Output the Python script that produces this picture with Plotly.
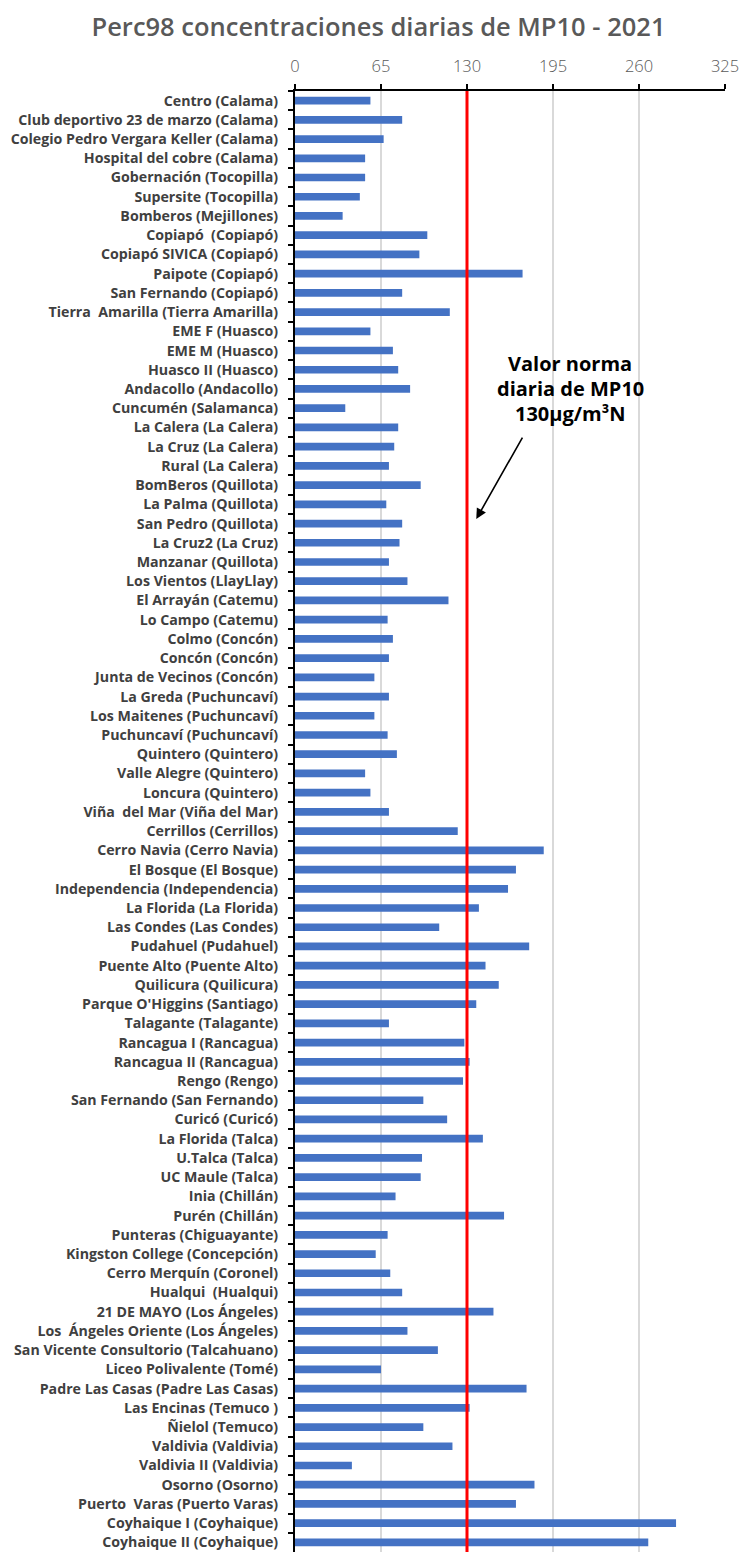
import plotly.graph_objects as go

# Monitoring stations (top to bottom) and their 98th-percentile daily PM10 (µg/m³N)
stations = [
    "Centro (Calama)", "Club deportivo 23 de marzo (Calama)", "Colegio Pedro Vergara Keller (Calama)",
    "Hospital del cobre (Calama)", "Gobernación (Tocopilla)", "Supersite (Tocopilla)",
    "Bomberos (Mejillones)", "Copiapó  (Copiapó)", "Copiapó SIVICA (Copiapó)", "Paipote (Copiapó)",
    "San Fernando (Copiapó)", "Tierra  Amarilla (Tierra Amarilla)", "EME F (Huasco)", "EME M (Huasco)",
    "Huasco II (Huasco)", "Andacollo (Andacollo)", "Cuncumén (Salamanca)", "La Calera (La Calera)",
    "La Cruz (La Calera)", "Rural (La Calera)", "BomBeros (Quillota)", "La Palma (Quillota)",
    "San Pedro (Quillota)", "La Cruz2 (La Cruz)", "Manzanar (Quillota)", "Los Vientos (LlayLlay)",
    "El Arrayán (Catemu)", "Lo Campo (Catemu)", "Colmo (Concón)", "Concón (Concón)",
    "Junta de Vecinos (Concón)", "La Greda (Puchuncaví)", "Los Maitenes (Puchuncaví)",
    "Puchuncaví (Puchuncaví)", "Quintero (Quintero)", "Valle Alegre (Quintero)", "Loncura (Quintero)",
    "Viña  del Mar (Viña del Mar)", "Cerrillos (Cerrillos)", "Cerro Navia (Cerro Navia)",
    "El Bosque (El Bosque)", "Independencia (Independencia)", "La Florida (La Florida)",
    "Las Condes (Las Condes)", "Pudahuel (Pudahuel)", "Puente Alto (Puente Alto)",
    "Quilicura (Quilicura)", "Parque O'Higgins (Santiago)", "Talagante (Talagante)",
    "Rancagua I (Rancagua)", "Rancagua II (Rancagua)", "Rengo (Rengo)", "San Fernando (San Fernando)",
    "Curicó (Curicó)", "La Florida (Talca)", "U.Talca (Talca)", "UC Maule (Talca)", "Inia (Chillán)",
    "Purén (Chillán)", "Punteras (Chiguayante)", "Kingston College (Concepción)",
    "Cerro Merquín (Coronel)", "Hualqui  (Hualqui)", "21 DE MAYO (Los Ángeles)",
    "Los  Ángeles Oriente (Los Ángeles)", "San Vicente Consultorio (Talcahuano)",
    "Liceo Polivalente (Tomé)", "Padre Las Casas (Padre Las Casas)", "Las Encinas (Temuco )",
    "Ñielol (Temuco)", "Valdivia (Valdivia)", "Valdivia II (Valdivia)", "Osorno (Osorno)",
    "Puerto  Varas (Puerto Varas)", "Coyhaique I (Coyhaique)", "Coyhaique II (Coyhaique)",
]

perc98 = [
    57, 81, 67, 53, 53, 49, 36, 100, 94, 172,
    81, 117, 57, 74, 78, 87, 38, 78, 75, 71,
    95, 69, 81, 79, 71, 85, 116, 70, 74, 71,
    60, 71, 60, 70, 77, 53, 57, 71, 123, 188,
    167, 161, 139, 109, 177, 144, 154, 137, 71, 128,
    132, 127, 97, 115, 142, 96, 95, 76, 158, 70,
    61, 72, 81, 150, 85, 108, 65, 175, 132, 97,
    119, 43, 181, 167, 288, 267,
]

x_ticks = [0, 65, 130, 195, 260, 325]
NORM = 130  # daily PM10 standard, µg/m³N
norm_lines = ["Valor norma", "diaria de MP10", "130µg/m³N"]

FONT = "Open Sans"

fig = go.Figure()
fig.add_trace(go.Bar(
    x=perc98, y=stations, orientation="h",
    marker=dict(color="#4472C4", line=dict(width=0)),
    width=0.4, hoverinfo="x+y",
))

# White box behind the callout, hiding the gridlines under the text
fig.add_shape(type="rect", xref="x", yref="paper", x0=141, x1=272, y0=0.7555, y1=0.8225,
              fillcolor="white", line=dict(width=0), layer="between")

# Daily standard as a vertical red line
fig.add_shape(type="line", xref="x", yref="paper", x0=NORM, x1=NORM, y0=0, y1=1,
              line=dict(color="#FF0000", width=3), layer="above")

# Callout text, one line per annotation
for i, line in enumerate(norm_lines):
    fig.add_annotation(x=208, y=0.8133 - i * 0.0171, xref="x", yref="paper", text=line,
                       showarrow=False, xanchor="center", yanchor="middle",
                       font=dict(family=FONT, size=20, color="#000000", weight="bold"))

# Arrow pointing at the standard line
fig.add_annotation(x=NORM + 7, y=0.707, xref="x", yref="paper", text="",
                   showarrow=True, ax=47, ay=-83, arrowhead=2, arrowsize=1.3,
                   arrowwidth=1.6, arrowcolor="#000000")

fig.update_layout(
    width=743, height=1552,
    margin=dict(l=295, r=18, t=91, b=0),
    paper_bgcolor="white", plot_bgcolor="white",
    showlegend=False,
    title=dict(text="Perc98 concentraciones diarias de MP10 - 2021",
               x=378.5 / 743, xanchor="center", y=1 - 27 / 1552, yanchor="middle",
               font=dict(family=FONT, size=25.5, color="#595959", weight=600)),
    xaxis=dict(side="top", range=[0, 325], tickvals=x_ticks, ticktext=[str(v) for v in x_ticks],
               showgrid=True, gridcolor="#D9D9D9", gridwidth=1.5,
               showline=True, linecolor="#000000", linewidth=2,
               ticks="outside", ticklen=5, tickwidth=2, tickcolor="#000000",
               tickfont=dict(family=FONT, size=16.5, color="#595959", weight=300),
               ticklabelstandoff=5, zeroline=False, fixedrange=True),
    yaxis=dict(categoryorder="array", categoryarray=stations, autorange="reversed",
               showline=True, linecolor="#000000", linewidth=2,
               ticks="outside", ticklen=5, tickwidth=2, tickcolor="#000000",
               tickson="boundaries", showgrid=False,
               tickfont=dict(family=FONT, size=14.2, color="#404040", weight="bold"),
               ticklabelstandoff=12, fixedrange=True),
)

fig.write_html("out.html")
